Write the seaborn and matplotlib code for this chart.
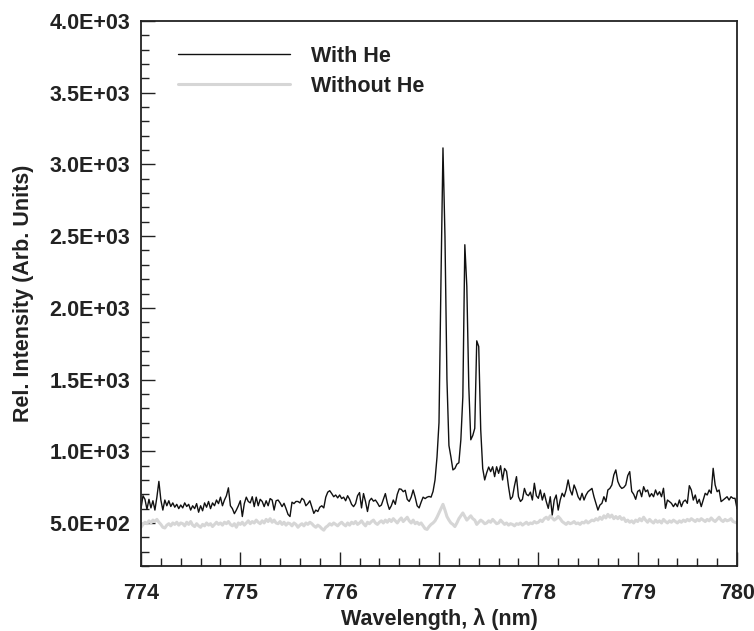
import numpy as np
import pandas as pd
import matplotlib
matplotlib.use("Agg")
import matplotlib.pyplot as plt
from matplotlib.ticker import MultipleLocator, FuncFormatter
import seaborn as sns

# ---- data ----
wl_start, wl_stop, wl_n = 774.0, 780.0, 301   # 0.02 nm sampling

with_he = [
    600, 690, 665, 595, 665, 605, 655, 590, 680, 790,
    660, 590, 660, 620, 655, 615, 640, 610, 630, 600,
    625, 605, 640, 615, 630, 590, 620, 600, 635, 575,
    620, 585, 640, 610, 650, 600, 640, 620, 660, 635,
    680, 620, 660, 690, 745, 620, 600, 565, 590, 620,
    655, 545, 635, 680, 650, 640, 683, 614, 680, 620,
    665, 650, 614, 655, 620, 670, 660, 590, 655, 660,
    640, 614, 637, 600, 560, 545, 645, 635, 650, 650,
    640, 672, 660, 620, 635, 655, 610, 567, 590, 580,
    610, 620, 605, 680, 715, 725, 705, 683, 695, 675,
    695, 670, 680, 655, 690, 665, 630, 614, 635, 690,
    712, 605, 705, 650, 580, 655, 672, 652, 660, 640,
    615, 625, 665, 705, 640, 595, 620, 660, 630, 700,
    738, 735, 718, 728, 665, 650, 680, 730, 680, 620,
    605, 645, 680, 670, 680, 685, 680, 720, 800, 960,
    1200, 2200, 3115, 2500, 1500, 1040, 960, 870, 880, 910,
    920, 1080, 1380, 2440, 2150, 1450, 1080, 1110, 1160, 1770,
    1730, 1150, 880, 800, 850, 890, 858, 892, 823, 892,
    846, 899, 800, 880, 860, 753, 665, 683, 760, 823,
    683, 650, 665, 741, 700, 690, 715, 660, 777, 690,
    672, 730, 660, 707, 649, 602, 683, 556, 660, 695,
    590, 660, 707, 683, 730, 800, 730, 695, 765, 730,
    683, 660, 707, 660, 695, 718, 730, 741, 683, 637,
    590, 625, 637, 683, 649, 730, 741, 765, 835, 870,
    790, 758, 741, 748, 765, 830, 858, 720, 700, 665,
    720, 730, 683, 753, 718, 730, 683, 705, 683, 730,
    695, 718, 683, 742, 602, 660, 649, 637, 614, 637,
    614, 660, 614, 649, 660, 637, 760, 730, 660, 695,
    637, 665, 614, 660, 707, 695, 730, 707, 881, 765,
    718, 730, 649, 660, 672, 683, 660, 683, 672, 672,
    600,
]

without_he = [
    470, 490, 505, 495, 515, 500, 520, 510, 525, 505,
    490, 470, 465, 485, 495, 480, 500, 490, 505, 485,
    500, 495, 480, 505, 490, 510, 485, 475, 495, 480,
    470, 490, 480, 500, 485, 495, 475, 490, 505, 490,
    500, 485, 505, 495, 510, 490, 480, 495, 470, 500,
    490, 505, 485, 500, 515, 495, 510, 500, 520, 505,
    495, 515, 500, 525, 510, 530, 505, 520, 500, 495,
    510, 490, 505, 485, 500, 495, 480, 500, 490, 470,
    485, 495, 480, 500, 490, 505, 495, 480, 470, 485,
    475, 460, 450, 470, 480, 495, 485, 500, 490, 480,
    495, 505, 490, 480, 500, 485, 505, 495, 510, 490,
    500, 515, 495, 480, 505, 495, 510, 520, 500, 490,
    505, 515, 500, 520, 505, 525, 510, 530, 515, 500,
    520, 535, 510, 525, 540, 515, 500, 520, 495, 505,
    490, 500, 480, 460, 455, 475, 490, 500, 515, 540,
    570, 600, 630, 590, 545, 520, 500, 490, 475, 500,
    530, 550, 570, 545, 520, 535, 550, 530, 520, 490,
    505, 520, 510, 495, 500, 515, 505, 525, 510, 495,
    500, 520, 505, 490, 500, 485, 495, 490, 480, 495,
    490, 500, 485, 495, 505, 490, 500, 495, 510, 500,
    505, 520, 510, 530, 540, 525, 550, 535, 520, 530,
    545, 530, 510, 500, 490, 505, 495, 500, 510, 495,
    500, 490, 505, 500, 515, 500, 510, 520, 515, 530,
    520, 540, 525, 550, 535, 560, 540, 555, 530, 545,
    530, 545, 525, 535, 510, 520, 505, 515, 500, 520,
    510, 530, 515, 540, 520, 505, 525, 510, 500, 520,
    505, 515, 500, 525, 510, 500, 515, 505, 520, 510,
    500, 515, 505, 520, 510, 525, 515, 530, 520, 510,
    525, 515, 530, 520, 510, 525, 515, 535, 520, 510,
    525, 540, 520, 510, 525, 515, 520, 530, 510, 505,
    500,
]

series_names = ["With He", "Without He"]
x_label = "Wavelength, \u03bb (nm)"
y_label = "Rel. Intensity (Arb. Units)"

wavelength = np.linspace(wl_start, wl_stop, wl_n)
df_with = pd.DataFrame({"wl": wavelength, "I": with_he})
df_without = pd.DataFrame({"wl": wavelength, "I": without_he})

# ---- style ----
sns.set_style("white")
plt.rcParams["font.family"] = ["Liberation Sans", "DejaVu Sans"]
plt.rcParams["font.weight"] = "bold"
plt.rcParams["axes.labelweight"] = "bold"

fig = plt.figure(figsize=(7.54, 6.31), dpi=100)
ax = fig.add_axes([141 / 754, 1 - 566 / 631, 596 / 754, 545 / 631])

sns.lineplot(data=df_without, x="wl", y="I", ax=ax, color="#d6d6d6",
             linewidth=2.2, estimator=None, sort=False, label=series_names[1])
sns.lineplot(data=df_with, x="wl", y="I", ax=ax, color="#111111",
             linewidth=1.0, estimator=None, sort=False, label=series_names[0])

ax.set_xlim(774, 780)
ax.set_ylim(200, 4000)
ax.xaxis.set_major_locator(MultipleLocator(1))
ax.xaxis.set_minor_locator(MultipleLocator(0.2))
ax.yaxis.set_major_locator(MultipleLocator(500))
ax.yaxis.set_minor_locator(MultipleLocator(100))
ax.yaxis.set_major_formatter(FuncFormatter(lambda v, p: f"{v:.1E}"))
ax.xaxis.set_major_formatter(FuncFormatter(lambda v, p: f"{v:.0f}"))

ax.tick_params(axis="both", which="both", direction="in", top=False, right=False,
               left=True, bottom=True, color="#222222", width=1.0)
ax.tick_params(axis="both", which="major", length=10, labelsize=15.5)
ax.tick_params(axis="y", which="major", pad=8)
ax.tick_params(axis="x", which="major", pad=12)
ax.tick_params(axis="both", which="minor", length=6)
for lab in ax.get_xticklabels() + ax.get_yticklabels():
    lab.set_fontweight("bold")
    lab.set_color("#222222")

for s in ax.spines.values():
    s.set_visible(True)
    s.set_color("#222222")
    s.set_linewidth(1.3)

ax.set_xlabel(x_label, fontsize=15.5, fontweight="bold", color="#222222", labelpad=3)
ax.set_ylabel(y_label, fontsize=15.5, fontweight="bold", color="#222222", labelpad=11)

handles, labels = ax.get_legend_handles_labels()
order = [labels.index(n) for n in series_names]
leg = ax.legend([handles[i] for i in order], [labels[i] for i in order],
                loc="upper left", bbox_to_anchor=(0.062, 0.955), frameon=False,
                borderpad=0, borderaxespad=0, handlelength=5.2, handletextpad=1.0,
                labelspacing=0.42, prop={"size": 15.5, "weight": "bold"})
for t in leg.get_texts():
    t.set_color("#222222")

fig.savefig("out.png", dpi=100)
